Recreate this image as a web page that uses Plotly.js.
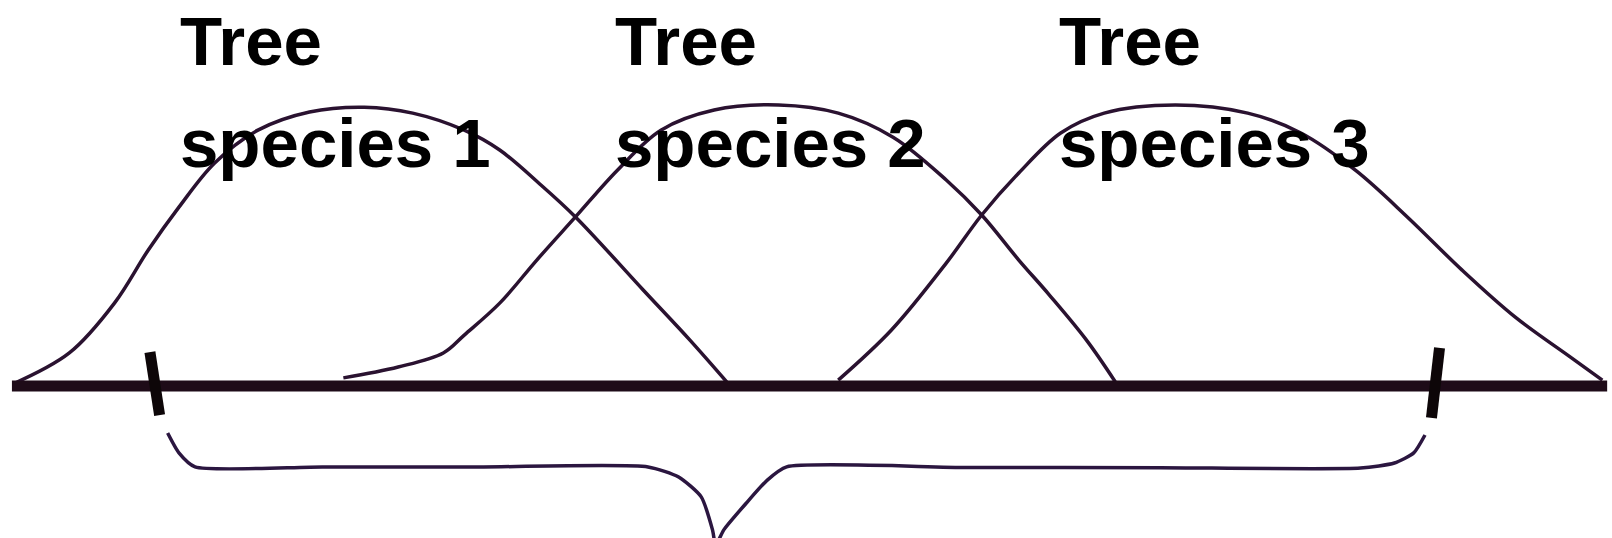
<!DOCTYPE html>
<html>
<head>
<meta charset="utf-8">
<script src="https://cdn.plot.ly/plotly-3.0.1.min.js"></script>
<style>
	html, body { margin: 0; padding: 0; background: #ffffff; }
	#nicheDiagram { width: 1612px; height: 538px; }
</style>
</head>
<body>
<div id="nicheDiagram"></div>
<script>

//position along the gradient (0-100) and relative abundance (peak ~100)
const species1_x = [0.8, 4.3, 7.1, 9.2, 11.1, 13.3, 16.0, 19.2, 22.6, 25.6, 28.8, 31.0, 33.5, 35.7, 39.9, 42.8, 45.2];
const species1_y = [0.7, 11.8, 29.6, 48.6, 63.9, 79.6, 91.4, 97.9, 99.6, 97.5, 91.4, 84.3, 72.1, 60.4, 34.3, 16.4, 0.7];

const species2_x = [21.3, 24.7, 27.5, 28.8, 31.0, 33.3, 35.7, 38.3, 41.0, 44.3, 48.3, 52.0, 55.4, 58.7, 60.9, 63.2, 65.1, 67.4, 69.2];
const species2_y = [2.9, 6.8, 11.8, 18.2, 29.6, 45.0, 60.4, 77.1, 91.4, 98.6, 100.4, 97.5, 88.9, 73.6, 61.1, 45.0, 32.5, 16.4, 1.4];

const species3_x = [52.0, 55.3, 58.7, 60.9, 63.2, 65.8, 68.5, 72.9, 77.4, 80.7, 84.1, 87.3, 90.7, 94.0, 97.4, 99.4];
const species3_y = [2.1, 20.0, 43.9, 61.1, 76.1, 90.4, 97.5, 100.4, 97.5, 90.4, 77.0, 60.4, 41.4, 24.6, 10.4, 2.1];

//gradient axis and the two end marks
const axis_x = [0.74, 99.7];
const axis_y = [0, 0];
const left_mark_x = [9.3, 9.9];
const left_mark_y = [12.1, -10.4];
const right_mark_x = [89.3, 88.8];
const right_mark_y = [13.6, -11.4];

//brace under the range
const brace_x = [10.4, 11.1, 12.1, 20.0, 30.0, 40.2, 42.1, 43.5, 44.2, 44.4, 44.9, 46.3, 47.6, 48.8, 60.0, 72.0, 84.4, 86.5, 87.7, 88.4];
const brace_y = [-16.8, -23.9, -28.9, -28.9, -28.9, -28.9, -32.5, -39.6, -51.4, -56.8, -51.4, -41.8, -33.6, -28.9, -29.1, -29.2, -29.3, -27.5, -23.9, -17.5];

const label_top = ['Tree', 'Tree', 'Tree'];
const label_bottom = ['species 1', 'species 2', 'species 3'];
const label_x = [11.05, 38.0, 65.6];

function curveTrace(x, y){
	return {
		x: x,
		y: y,
		mode: 'lines',
		type: 'scatter',
		hoverinfo: 'skip',
		line: {
			shape: 'spline',
			smoothing: 1,
			color: '#2a1230',
			width: 3.5
		}
	};
}

function strokeTrace(x, y, width, color){
	return {
		x: x,
		y: y,
		mode: 'lines',
		type: 'scatter',
		hoverinfo: 'skip',
		line: {
			color: color,
			width: width
		}
	};
}

function buildLabels(){
	const labelFont = { family: 'Liberation Sans, Arial, sans-serif', size: 69, color: '#000000', weight: 700 };
	const annotations = [];
	for(var i=0; i<label_x.length; i++){
		annotations.push({
			x: label_x[i], y: 123.2,
			xref: 'x', yref: 'y',
			xanchor: 'left', yanchor: 'middle',
			text: label_top[i],
			showarrow: false,
			font: labelFont
		});
		annotations.push({
			x: label_x[i], y: 86.75,
			xref: 'x', yref: 'y',
			xanchor: 'left', yanchor: 'middle',
			text: label_bottom[i],
			showarrow: false,
			font: labelFont
		});
	}
	return annotations;
}

const traces = [
	curveTrace(species1_x, species1_y),
	curveTrace(species2_x, species2_y),
	curveTrace(species3_x, species3_y),
	strokeTrace(axis_x, axis_y, 11, '#1e0b18'),
	strokeTrace(left_mark_x, left_mark_y, 11, '#0d0608'),
	strokeTrace(right_mark_x, right_mark_y, 11, '#0d0608'),
	{
		x: brace_x,
		y: brace_y,
		mode: 'lines',
		type: 'scatter',
		hoverinfo: 'skip',
		line: {
			shape: 'spline',
			smoothing: 0.6,
			color: '#2b1640',
			width: 3.5
		}
	}
];

const layout = {
	width: 1612,
	height: 538,
	showlegend: false,
	paper_bgcolor: '#ffffff',
	plot_bgcolor: '#ffffff',
	margin: { t: 0, l: 0, r: 0, b: 0 },
	xaxis: {
		range: [0, 100],
		visible: false,
		fixedrange: true
	},
	yaxis: {
		range: [-54.3, 137.9],
		visible: false,
		fixedrange: true
	},
	annotations: buildLabels()
};

Plotly.newPlot('nicheDiagram', traces, layout, { staticPlot: true });

</script>
</body>
</html>
